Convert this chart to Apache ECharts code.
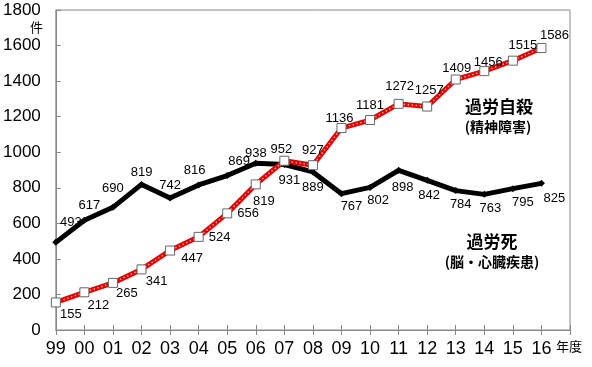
<!DOCTYPE html>
<html><head><meta charset="utf-8">
<script src="https://cdn.jsdelivr.net/npm/echarts@6/dist/echarts.min.js"></script>
<style>html,body{margin:0;padding:0;background:#fff}#c{width:592px;height:367px}</style>
</head><body><div id="c"></div>
<script>
const years = ['99','00','01','02','03','04','05','06','07','08','09','10','11','12','13','14','15','16'];
const karoshi = [493,617,690,819,742,816,869,938,931,889,767,802,898,842,784,763,795,825];
const jisatsu = [155,212,265,341,447,524,656,819,952,927,1136,1181,1272,1257,1409,1456,1515,1586];
const yTicks = {min:0, max:1800, interval:200};

// label offsets (style only)
const blackOff = [[15,-20],[5,-15],[0,-19],[0,-12],[0,-13],[-4,-15],[12,-14],[0,-10],[5,16],[0,15],[10,13],[8,13],[4,17],[2,15],[5,14],[6,14],[10,14],[13,15]];
const redOff = [[15,12],[14,13],[14,11],[15,12],[22,8],[21,1],[21,0],[8,17],[-3,-11],[0,-15],[-2,-10],[0,-15],[1,-17],[2,-16],[1,-11],[4,-9],[10,-15],[13,-13]];

const cats = years.concat(['']);
const FONT = 'Liberation Sans';
const lbl = (off) => ({show:true, position:'inside', offset:off, align:'center', verticalAlign:'middle',
  color:'#000', fontSize:13, fontFamily:FONT});

const chart = echarts.init(document.getElementById('c'), null, {renderer:'canvas'});
chart.setOption({
  animation:false,
  backgroundColor:'#fff',
  grid:{left:55, top:10, right:22, bottom:37, show:true, borderColor:'#888', borderWidth:1, backgroundColor:'transparent'},
  xAxis:[{
    type:'category', data:cats, boundaryGap:false, position:'bottom',
    axisLine:{lineStyle:{color:'#888', width:1}},
    axisTick:{show:true, interval:0, inside:false, length:5, lineStyle:{color:'#888'}},
    axisLabel:{interval:0, color:'#000', fontSize:18, fontFamily:FONT, margin:10},
    splitLine:{show:false}
  },{
    type:'category', data:cats, boundaryGap:false, position:'bottom', gridIndex:0,
    axisLine:{show:false},
    axisTick:{show:true, interval:0, inside:true, length:5, lineStyle:{color:'#888'}},
    axisLabel:{show:false}, splitLine:{show:false}
  }],
  yAxis:{
    type:'value', min:yTicks.min, max:yTicks.max, interval:yTicks.interval,
    axisLine:{show:true, lineStyle:{color:'#888', width:1}},
    axisTick:{show:true, inside:true, length:5, lineStyle:{color:'#888'}},
    axisLabel:{color:'#000', fontSize:17, fontFamily:FONT, margin:15, formatter:(v)=>String(v)},
    splitLine:{show:false}
  },
  series:[
    {
      name:'過労死', type:'line',
      data:karoshi.map((v,i)=>({value:v, label:lbl(blackOff[i])})),
      lineStyle:{color:'#000', width:5}, itemStyle:{color:'#000'},
      symbol:'diamond', symbolSize:7, showSymbol:true, z:2
    },
    {
      name:'過労自殺base', type:'line', data:jisatsu,
      lineStyle:{color:'#e00000', width:5}, showSymbol:false, symbol:'none', silent:true, z:3
    },
    {
      name:'過労自殺', type:'line',
      data:jisatsu.map((v,i)=>({value:v, label:lbl(redOff[i])})),
      lineStyle:{color:'#ff9c9c', width:1.5, type:[1.5,2.5]},
      symbol:'rect', symbolSize:9, showSymbol:true,
      itemStyle:{color:'#fff', borderColor:'#666', borderWidth:1}, z:4
    }
  ],
  graphic:[
    {type:'text', left:30, top:21, style:{text:'件', fontSize:13, fontFamily:'Noto Sans CJK JP', fill:'#000'}},
    {type:'text', left:556, top:340, style:{text:'年度', fontSize:13, fontFamily:'Noto Sans CJK JP', fill:'#000'}},
    {type:'text', x:499, y:107, style:{text:'過労自殺', fontSize:17, fontWeight:'bold', fontFamily:'Noto Sans CJK JP', fill:'#000', align:'center', verticalAlign:'middle'}},
    {type:'text', x:498, y:127, style:{text:'(精神障害)', fontSize:14, fontWeight:'bold', fontFamily:'Noto Sans CJK JP', fill:'#000', align:'center', verticalAlign:'middle'}},
    {type:'text', x:492, y:242, style:{text:'過労死', fontSize:17, fontWeight:'bold', fontFamily:'Noto Sans CJK JP', fill:'#000', align:'center', verticalAlign:'middle'}},
    {type:'text', x:492, y:262, style:{text:'(脳・心臓疾患)', fontSize:14, fontWeight:'bold', fontFamily:'Noto Sans CJK JP', fill:'#000', align:'center', verticalAlign:'middle'}}
  ]
});
</script>
</body></html>
